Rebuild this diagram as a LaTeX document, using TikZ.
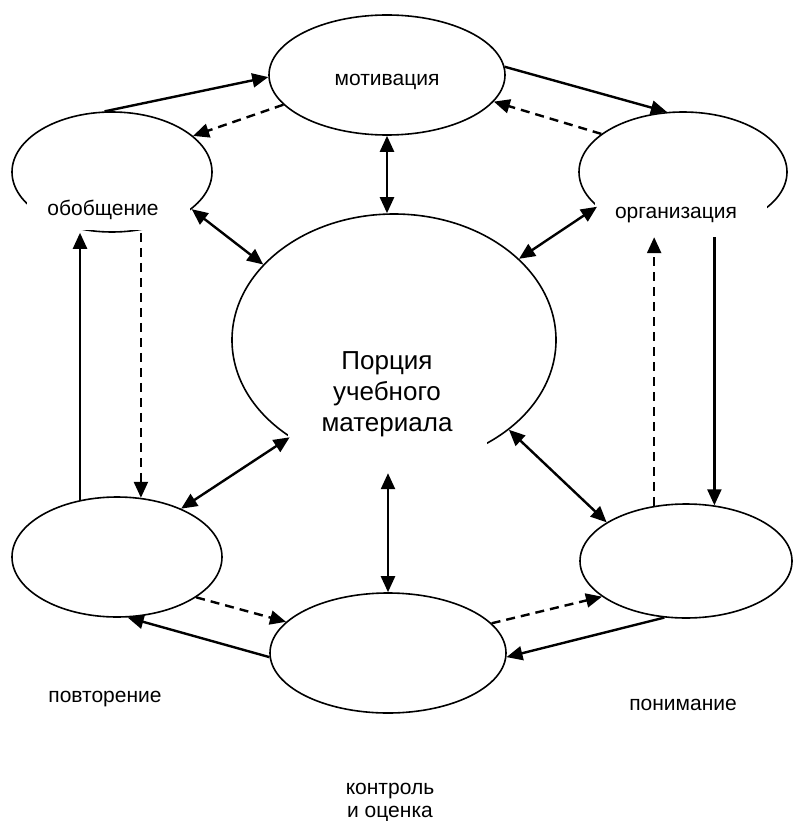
\documentclass[tikz,border=0pt]{standalone}
\usepackage{fontspec}
\setmainfont{Liberation Sans}
\usetikzlibrary{shapes.geometric,arrows.meta}

\begin{document}
\begin{tikzpicture}[x=1pt,y=-1pt,
    stage/.style={draw,ellipse,line width=1.6pt,inner sep=0pt},
    mask/.style={fill=white,inner sep=0pt},
    lbl/.style={font=\fontsize{21}{23}\selectfont,inner sep=0pt,align=center},
    arr/.style={line width=2.4pt,-{Triangle[length=16pt,width=14pt]}},
    dbl/.style={line width=2.4pt,{Triangle[length=16pt,width=14pt]}-{Triangle[length=16pt,width=14pt]}},
    dashed/.style={dash pattern=on 9pt off 6pt}]
  \useasboundingbox (0,0) rectangle (792,821);
  % Stages of the cycle
  \node[stage,minimum width=236pt,minimum height=120pt] (M) at (387,75) {};
  \node[stage,minimum width=200pt,minimum height=120pt] (O) at (112,172) {};
  \node[stage,minimum width=208pt,minimum height=120pt] (G) at (683,172) {};
  \node[stage,minimum width=324pt,minimum height=252pt] (P) at (394,340) {};
  \node[stage,minimum width=210pt,minimum height=120pt] (V) at (117,557) {};
  \node[stage,minimum width=236pt,minimum height=120pt] (K) at (388,653) {};
  \node[stage,minimum width=212pt,minimum height=114pt] (N) at (686,561) {};
  % White text boxes over the ellipses
  \node[mask,minimum width=163pt,minimum height=29.5pt] (omask) at (108.5,214.75) {};
  \node[mask,minimum width=172pt,minimum height=37pt] (gmask) at (681,218.5) {};
  \node[mask,minimum width=199pt,minimum height=153pt] (pmask) at (387.5,396.5) {};
  % Labels
  \node[lbl,anchor=base] (motivtxt) at (387,86) {мотивация};
  \node[lbl,anchor=base] (obobtxt) at (103,215) {обобщение};
  \node[lbl,anchor=base] (orgtxt) at (676,218) {организация};
  \node[lbl,font=\fontsize{26}{31}\selectfont] (portiontxt) at (387,394.5) {Порция\\учебного\\материала};
  \node[lbl,anchor=base] (povttxt) at (105,702) {повторение};
  \node[lbl,anchor=base] (ponimtxt) at (683,710) {понимание};
  \node[lbl] (kontrtxt) at (390,802.5) {контроль\\и оценка};
  % Outer ring
  \draw[arr] (O.97) -- (M.181);
  \draw[arr,dashed] (M.196) -- (O.24);
  \draw[arr] (M.4) -- (G.105);
  \draw[arr,dashed] (G.155) -- (M.346);
  \draw[arr] (gmask.south -| N.63) -- (N.63);
  \draw[arr,dashed] (N.120) -- (N.120 |- gmask.south);
  \draw[arr,dashed] (K.16) -- (N.203);
  \draw[arr] (N.249) -- (K.358);
  \draw[arr,dashed] (V.333) -- (K.163);
  \draw[arr] (K.182) -- (V.280);
  \draw[arr] (V.123) -- (V.123 |- O.south);
  \draw[arr,dashed] (V.68 |- O.south) -- (V.68);
  % Links to the centre
  \draw[dbl] (M.south) -- (M.south |- P.north);
  \draw[dbl] (O.335) -- (P.150);
  \draw[dbl] (G.202) -- (P.33);
  \draw[dbl] (P.223) -- (V.37);
  \draw[dbl] (K.north) -- (K.north |- pmask.south);
  \draw[dbl] (P.322) -- (N.154);
\end{tikzpicture}
\end{document}
